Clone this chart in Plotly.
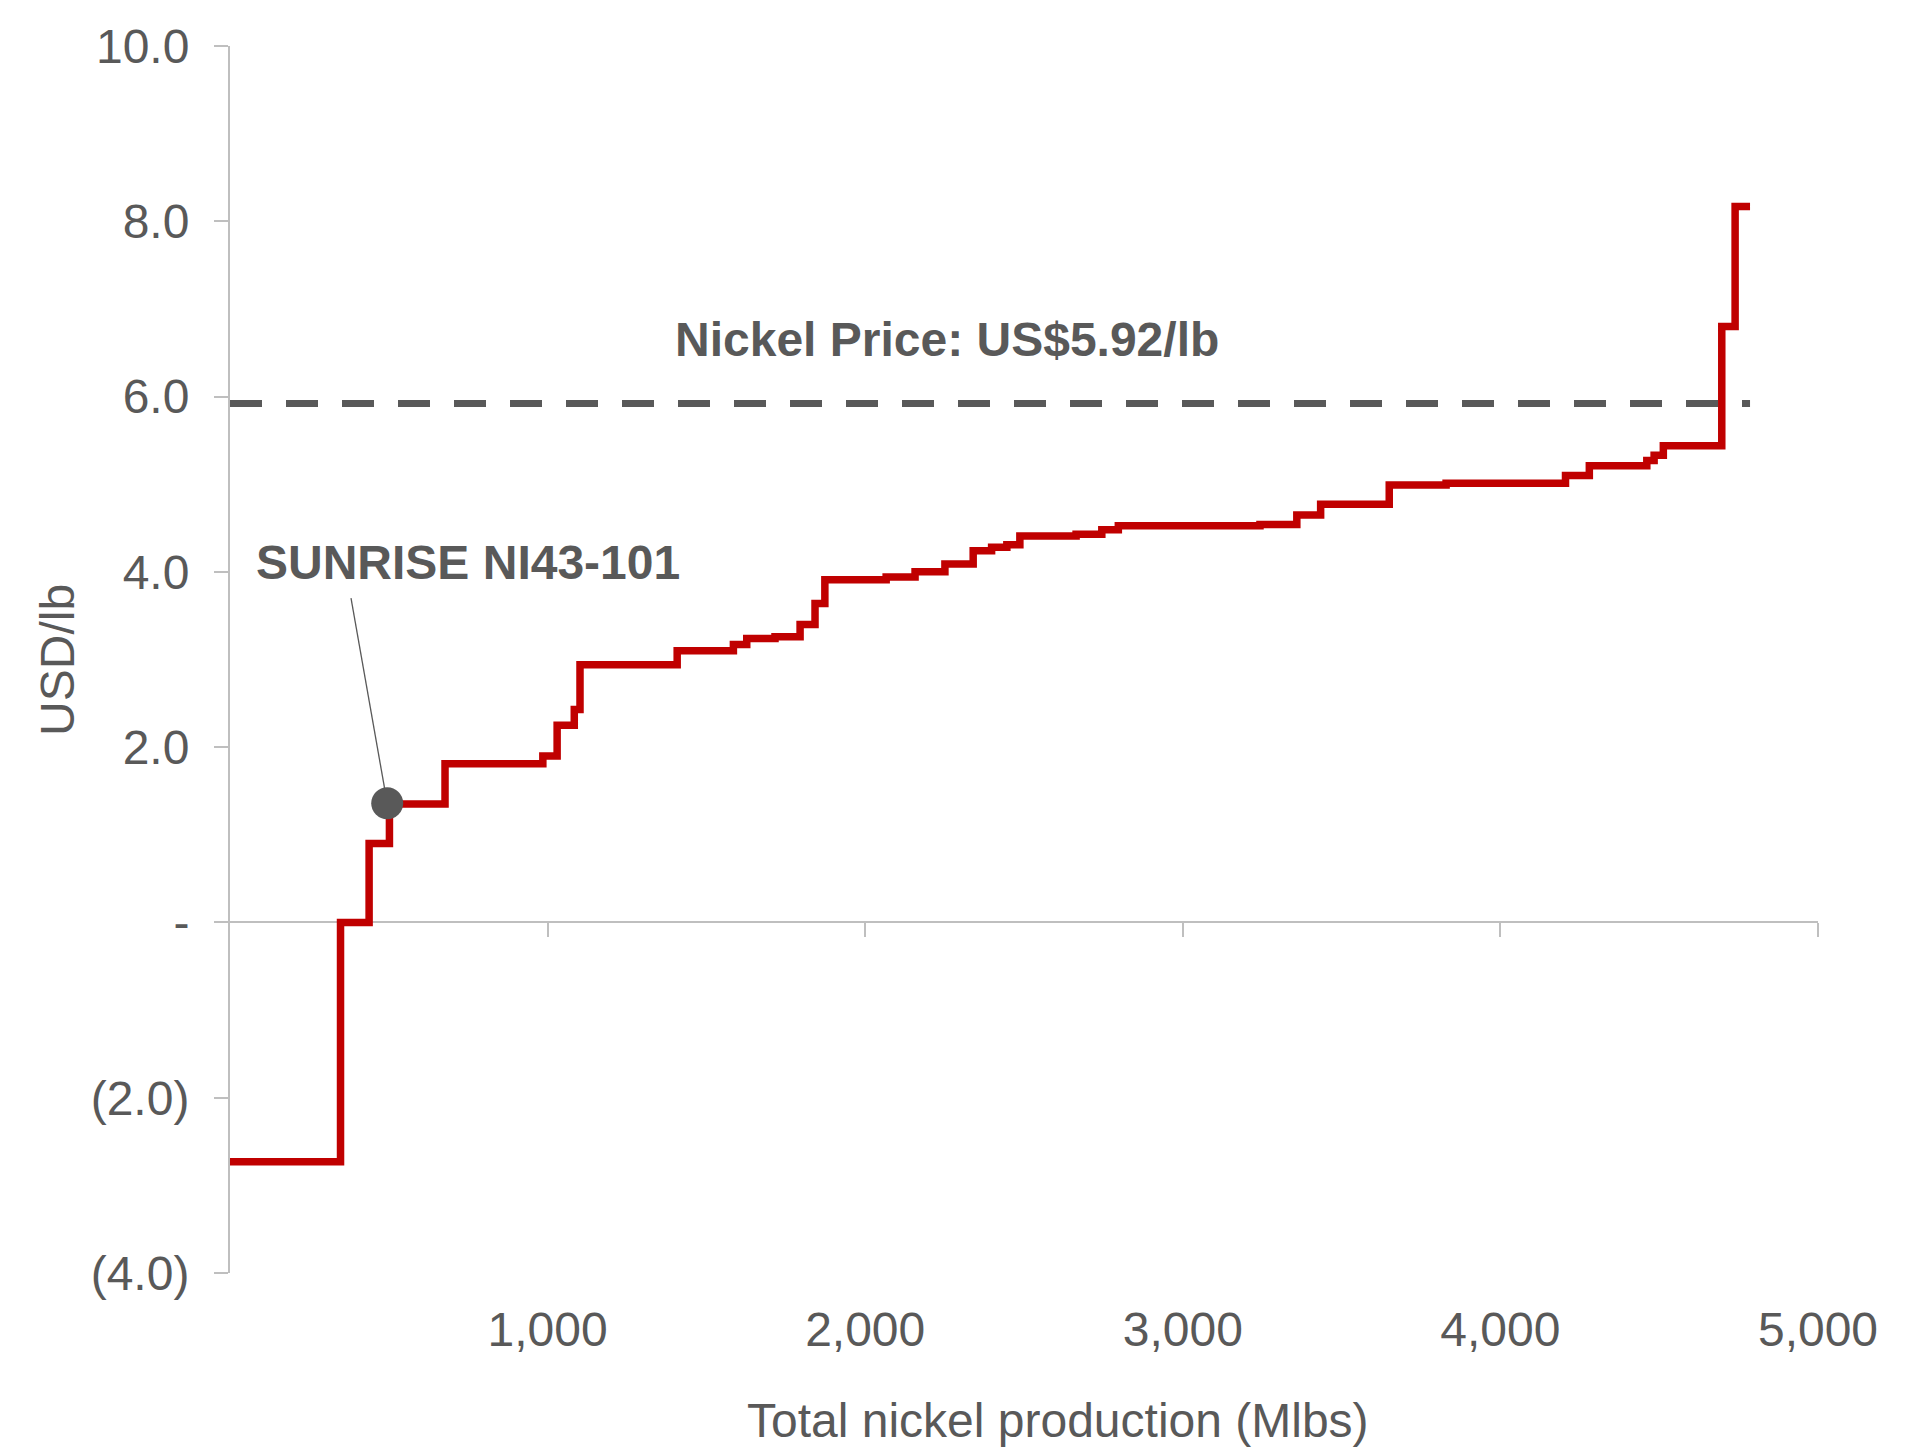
import plotly.graph_objects as go

# ---- data ----
step_start_mlbs = [0, 348, 438, 502, 677, 985, 1030, 1084, 1102, 1408, 1585, 1627, 1716,
                   1795, 1842, 1873, 2066, 2157, 2251, 2340, 2398, 2446, 2487, 2664, 2745,
                   2797, 3243, 3359, 3434, 3650, 3829, 4205, 4280, 4461, 4484, 4513, 4697, 4739]
step_cost_usd = [-2.73, 0.0, 0.90, 1.35, 1.81, 1.90, 2.25, 2.43, 2.94, 3.10, 3.17, 3.24, 3.26,
                 3.40, 3.64, 3.91, 3.94, 4.00, 4.09, 4.24, 4.28, 4.31, 4.41, 4.43, 4.48,
                 4.525, 4.54, 4.65, 4.77, 4.99, 5.01, 5.10, 5.21, 5.27, 5.33, 5.44, 6.80, 8.17]
total_production_end = 4786

nickel_price = 5.92
sunrise_x = 495
sunrise_cost = 1.36
sunrise_label_anchor = (381, 3.70)

x_tick_vals = [1000, 2000, 3000, 4000, 5000]
x_tick_text = ["1,000", "2,000", "3,000", "4,000", "5,000"]
y_tick_vals = [-4, -2, 0, 2, 4, 6, 8, 10]
y_tick_text = ["(4.0)", "(2.0)", "-", "2.0", "4.0", "6.0", "8.0", "10.0"]

# ---- style ----
FONT = "Liberation Sans, Arial, sans-serif"
TXT = "#595959"
RED = "#C00000"
AX = "#BFBFBF"
FS = 48

xs = step_start_mlbs + [total_production_end]
ys = step_cost_usd + [step_cost_usd[-1]]

fig = go.Figure()

fig.add_trace(go.Scatter(
    x=[0, total_production_end], y=[nickel_price, nickel_price],
    mode="lines",
    line=dict(color=TXT, width=7, dash="32px,24px"),
    hoverinfo="skip", showlegend=False))

fig.add_trace(go.Scatter(
    x=xs, y=ys, mode="lines", xaxis="x2", line=dict(color=RED, width=7.5, shape="hv"),
    showlegend=False))

fig.add_trace(go.Scatter(
    x=[sunrise_label_anchor[0], sunrise_x], y=[sunrise_label_anchor[1], sunrise_cost],
    mode="lines", xaxis="x2", line=dict(color=TXT, width=1.3), showlegend=False,
    hoverinfo="skip"))

fig.add_trace(go.Scatter(
    x=[sunrise_x], y=[sunrise_cost], mode="markers", xaxis="x2",
    marker=dict(color=TXT, size=32), showlegend=False))

fig.add_annotation(x=2259, y=6.65, xref="x", yref="y", text="<b>Nickel Price: US$5.92/lb</b>",
                   showarrow=False, font=dict(family=FONT, size=FS, color=TXT))
fig.add_annotation(x=748, y=4.11, xref="x", yref="y", text="<b>SUNRISE NI43-101</b>",
                   showarrow=False, font=dict(family=FONT, size=FS, color=TXT))
fig.add_annotation(x=0.5217, y=-0.12, xref="paper", yref="paper",
                   text="Total nickel production (Mlbs)", showarrow=False,
                   yanchor="middle", font=dict(family=FONT, size=FS, color=TXT))
fig.add_annotation(x=-0.1087, y=0.5, xref="paper", yref="paper", text="USD/lb",
                   textangle=-90, showarrow=False, xanchor="center", yanchor="middle",
                   font=dict(family=FONT, size=FS, color=TXT))

fig.update_layout(
    width=1889, height=1442,
    margin=dict(l=222, r=79, t=32, b=177),
    paper_bgcolor="white", plot_bgcolor="white",
    font=dict(family=FONT, size=FS, color=TXT),
    xaxis=dict(range=[0, 5000], showline=False, showgrid=False, zeroline=False,
               ticks="", tickvals=x_tick_vals, ticktext=x_tick_text,
               ticklabelstandoff=24, tickfont=dict(size=FS, color=TXT)),
    xaxis2=dict(range=[0, 5000], overlaying="x", anchor="free", position=4 / 14,
                side="bottom", showline=True, linecolor=AX, linewidth=2,
                showgrid=False, zeroline=False, ticks="outside", ticklen=14,
                tickwidth=2, tickcolor=AX, tickvals=x_tick_vals, showticklabels=False,
                layer="below traces"),
    yaxis=dict(range=[-4, 10], showline=True, linecolor=AX, linewidth=2,
               showgrid=False, zeroline=False, ticks="outside", ticklen=14,
               tickwidth=2, tickcolor=AX, tickvals=y_tick_vals, ticktext=y_tick_text,
               ticklabelstandoff=15, tickfont=dict(size=FS, color=TXT)),
)

fig.write_html("out.html")
